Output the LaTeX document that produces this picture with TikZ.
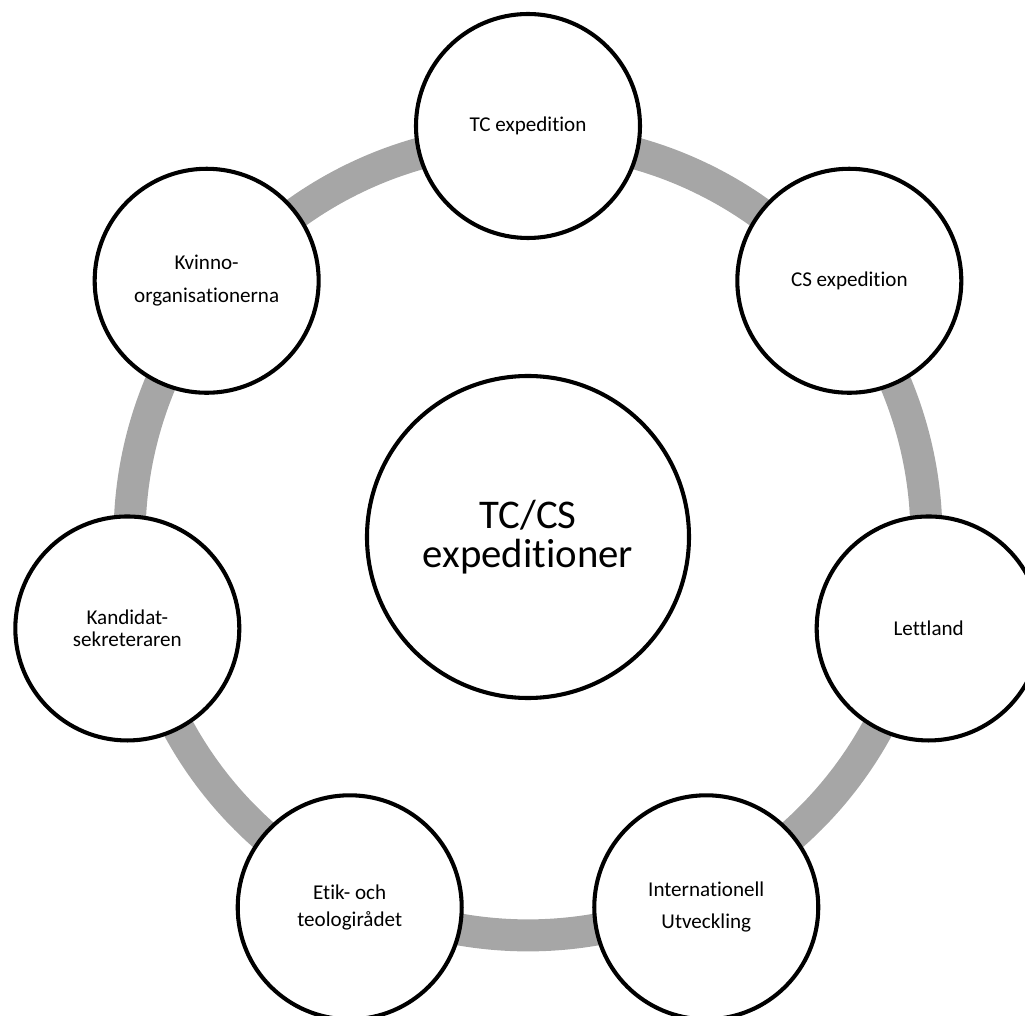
\documentclass[tikz,border=0pt]{standalone}
\usepackage{fontspec}
\setmainfont{Carlito}[Ligatures=NoCommon]
\usetikzlibrary{backgrounds,calc}
\definecolor{ringgray}{RGB}{166,166,166}
\tikzset{topic/.style={
    circle,
    draw,
    line width=2.9pt,
    fill=white,
    minimum size=5.6cm,
    inner sep=0pt,
    align=center,
    font=\fontsize{15}{16}\selectfont
}}
\tikzset{hub/.style={
    topic,
    minimum size=8.05cm,
    font=\fontsize{29}{27.5}\selectfont
}}
\tikzset{ring/.style={
    draw=ringgray,
    line width=0.8cm,
    bend left=25.7,
    looseness=0.9
}}

\begin{document}
\begin{tikzpicture}
    \useasboundingbox (-13.2,-11.975) rectangle (12.425,13.425);
    \clip (-13.2,-11.975) rectangle (12.425,13.425);

    \node[hub] (hub) at (0,0) {TC/CS\\expeditioner};

    \node[topic] (tc) at (90:10.275) {TC expedition};
    \node[topic] (cs) at (38.57:10.275) {CS expedition};
    \node[topic] (lv) at (-12.86:10.275) {Lettland};
    \node[topic] (iu) at (-64.29:10.275) {Internationell\\[7pt]Utveckling};
    \node[topic] (et) at (-115.71:10.275) {Etik- och\\[3pt]teologirådet};
    \node[topic] (ks) at (-167.14:10.275) {Kandidat-\\sekreteraren};
    \node[topic] (kv) at (141.43:10.275) {Kvinno-\\[7.5pt]organisationerna};

    % the grey ring runs a little inside the circle centres
    \foreach \n in {tc,cs,lv,iu,et,ks,kv}
        \coordinate (\n-r) at ($(hub.center)!9.96cm!(\n.center)$);

    \begin{scope}[on background layer]
        \draw[ring] (tc-r) to (cs-r) to (lv-r) to (iu-r)
            to (et-r) to (ks-r) to (kv-r) to (tc-r);
    \end{scope}
\end{tikzpicture}
\end{document}
